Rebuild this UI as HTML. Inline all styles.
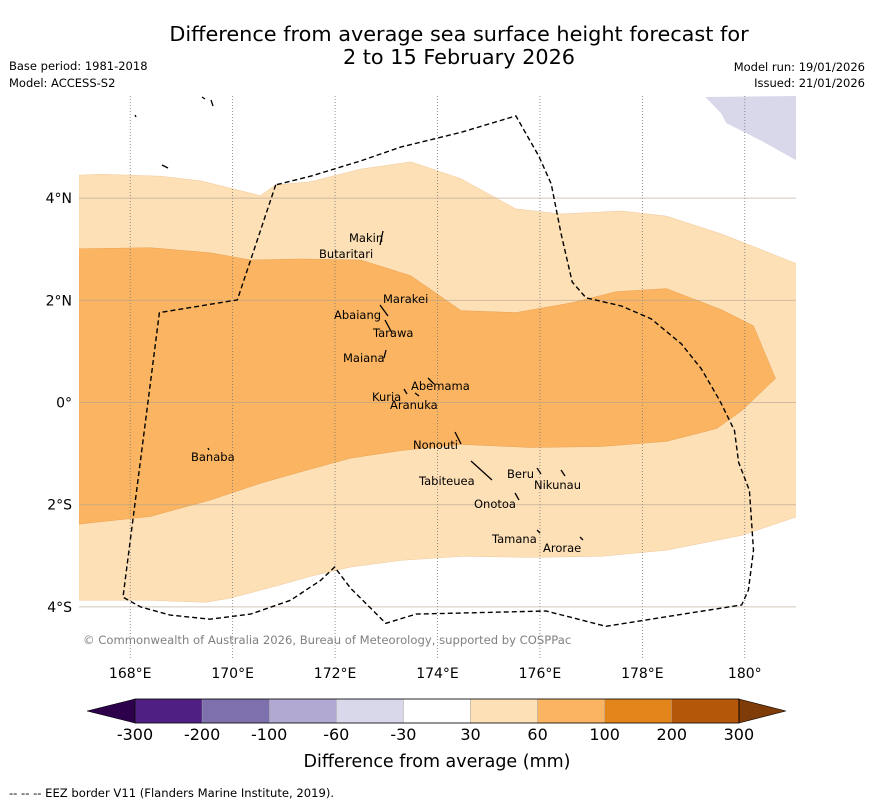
<!DOCTYPE html>
<html><head><meta charset="utf-8"><style>
body{margin:0;background:#fff;}
svg text{font-family:"DejaVu Sans","Liberation Sans",sans-serif;}
</style></head><body>
<svg width="873" height="804" viewBox="0 0 873 804" id="chart">
<text x="459" y="41" font-size="20.8" text-anchor="middle">Difference from average sea surface height forecast for</text>
<text x="459" y="64" font-size="20.8" text-anchor="middle">2 to 15 February 2026</text>
<text x="9" y="70" font-size="11.5">Base period: 1981-2018</text>
<text x="9" y="87" font-size="11.5">Model: ACCESS-S2</text>
<text x="865" y="71" font-size="11.5" text-anchor="end">Model run: 19/01/2026</text>
<text x="865" y="87" font-size="11.5" text-anchor="end">Issued: 21/01/2026</text>
<g id="map"></g>
<g id="cbar"></g>
<text x="437" y="767" font-size="17.5" text-anchor="middle">Difference from average (mm)</text>
<text x="9" y="797" font-size="11.6">--  --  -- EEZ border V11 (Flanders Marine Institute, 2019).</text>
</svg>
<script>
const lonTicks=[168,170,172,174,176,178,180];
const lonLabels=["168°E","170°E","172°E","174°E","176°E","178°E","180°"];
const latTicks=[4,2,0,-2,-4];
const latLabels=["4°N","2°N","0°","2°S","4°S"];
const band30Lon=[167.0,167.41,168.59,169.37,170.54,170.84,171.52,172.5,173.48,174.46,175.53,176.41,177.59,178.47,179.54,180.33,181.03,181.03,179.94,178.47,177.2,175.83,174.46,173.28,172.3,171.52,170.93,169.95,169.47,168.39,167.0];
const band30Lat=[4.45,4.47,4.43,4.34,4.05,4.26,4.32,4.57,4.71,4.38,3.79,3.69,3.75,3.65,3.3,2.99,2.71,-2.23,-2.6,-2.89,-3.01,-3.03,-3.01,-3.09,-3.22,-3.4,-3.57,-3.83,-3.91,-3.87,-3.87];
const band60Lon=[167.0,168.39,169.56,170.35,171.32,172.5,173.48,174.46,175.53,176.61,177.49,178.47,179.54,180.17,180.6,179.94,179.45,178.47,177.2,175.83,174.46,173.28,172.3,171.42,170.54,169.56,168.39,167.0];
const band60Lat=[3.01,3.03,2.93,2.79,2.81,2.79,2.48,1.8,1.76,1.95,2.17,2.23,1.82,1.5,0.47,-0.16,-0.51,-0.76,-0.86,-0.88,-0.82,-0.94,-1.09,-1.33,-1.58,-1.91,-2.23,-2.38];
const negLon=[179.23,179.54,179.64,180.33,181.03,181.03];
const negLat=[5.98,5.66,5.47,5.12,4.73,6.0];
const eezLon=[170.84,170.09,168.57,167.86,168.2,168.78,169.56,170.35,171.13,171.72,171.99,172.3,172.99,173.58,176.12,177.29,179.94,180.07,180.17,180.09,179.88,179.8,179.51,179.15,178.76,178.17,177.59,176.9,176.63,176.41,176.22,175.98,175.53,174.46,173.28,172.5,171.52,170.84];
const eezLat=[4.26,2.01,1.76,-3.81,-4.0,-4.16,-4.24,-4.14,-3.87,-3.48,-3.22,-3.63,-4.32,-4.14,-4.08,-4.38,-3.96,-3.67,-2.89,-1.72,-1.17,-0.55,0.04,0.66,1.15,1.64,1.89,2.05,2.36,3.32,4.28,4.82,5.61,5.29,5.0,4.73,4.43,4.26];
const cbarLabels=["-300","-200","-100","-60","-30","30","60","100","200","300"];
const cbarColors=["#4f1f84","#7e70ad","#b1a9d2","#d8d8ea","#ffffff","#fee0b6","#fbb562","#e3851a","#b45709"];

const NS="http://www.w3.org/2000/svg";
const X0=79,X1=796,Y0=96,Y1=658,LON0=167,LON1=181,LAT0=-5,LAT1=6;
const xs=l=>X0+(l-LON0)/(LON1-LON0)*(X1-X0);
const ys=l=>Y1-(l-LAT0)/(LAT1-LAT0)*(Y1-Y0);
const map=document.getElementById('map');
function mk(t,a,p){const e=document.createElementNS(NS,t);for(const k in a)e.setAttribute(k,a[k]);(p||map).appendChild(e);return e;}
function pts(lo,la){return lo.map((v,i)=>xs(v).toFixed(1)+','+ys(la[i]).toFixed(1)).join(' ');}
mk('defs',{}).innerHTML='<clipPath id="clip"><rect x="'+X0+'" y="'+Y0+'" width="'+(X1-X0)+'" height="'+(Y1-Y0)+'"/></clipPath>';
const g=mk('g',{'clip-path':'url(#clip)'});
let e;
e=mk('polygon',{points:pts(band30Lon,band30Lat),fill:'#fee0b6',stroke:'#f0c89a','stroke-width':0.5},g);


e=mk('polygon',{points:pts(band60Lon,band60Lat),fill:'#fbb562',stroke:'#e8a050','stroke-width':0.5},g);


e=mk('polygon',{points:pts(negLon,negLat),fill:'#d8d8ea'},g);


lonTicks.forEach((v,i)=>{
  e=mk('line',{x1:xs(v),x2:xs(v),y1:Y0,y2:Y1,stroke:'#777','stroke-width':0.8,'stroke-dasharray':'1,2'},g);
  
  
  e=mk('text',{x:xs(v),y:678,'font-size':14,'text-anchor':'middle'});
  e.textContent=lonLabels[i];
  
  
});
latTicks.forEach((v,i)=>{
  e=mk('line',{x1:X0,x2:X1,y1:ys(v),y2:ys(v),stroke:'#b0a090','stroke-opacity':0.6,'stroke-width':1},g);
  
  
  e=mk('text',{x:72,y:ys(v)+5,'font-size':14,'text-anchor':'end'});
  e.textContent=latLabels[i];
  
  
});
e=mk('polyline',{points:pts(eezLon,eezLat),fill:'none',stroke:'#000','stroke-width':1.4,'stroke-dasharray':'5,3'},g);


const isl=[[383,231,380,245],[380,305,388,316],[385,320,392,333],[386,350,384,358],[428,378,434,384],[455,432,461,444],[471,461,492,480],[537,468,541,474],[561,470,565,476],[515,493,519,500],[537,530,540,533],[580,537,583,540],[404,389,407,394],[415,393,419,396],[208,448,209,450],[135,115,136,117],[162,165,168,168],[202,97,205,99],[211,100,213,106]];
isl.forEach(a=>{e=mk('line',{x1:a[0],y1:a[1],x2:a[2],y2:a[3],stroke:'#000','stroke-width':1.3},g);

});
const labels=[["Makin",349,242],["Butaritari",319,258],["Marakei",383,303],["Abaiang",334,319],["Tarawa",373,337],["Maiana",343,362],["Abemama",411,390],["Kuria",372,401],["Aranuka",390,409],["Nonouti",413,449],["Banaba",191,461],["Beru",507,478],["Nikunau",534,489],["Tabiteuea",419,485],["Onotoa",474,508],["Tamana",492,543],["Arorae",543,552]];
labels.forEach(l=>{e=mk('text',{x:l[1],y:l[2],'font-size':11.5});e.textContent=l[0];

});
e=mk('text',{x:83,y:644,'font-size':11.6,fill:'#808080'});
e.textContent='© Commonwealth of Australia 2026, Bureau of Meteorology, supported by COSPPac';



const cb=document.getElementById('cbar');
const CX0=135,CW=67.1,CY=699,CH=24;
e=mk('polygon',{points:`87,711 ${CX0},${CY} ${CX0},${CY+CH}`,fill:'#2d004b',stroke:'#000','stroke-width':0.6},cb);


cbarColors.forEach((c,i)=>{e=mk('rect',{x:CX0+i*CW,y:CY,width:CW,height:CH,fill:c,stroke:'#999','stroke-width':0.4},cb);

});
const CXE=CX0+cbarColors.length*CW;
e=mk('polygon',{points:`${CXE},${CY} 786,711 ${CXE},${CY+CH}`,fill:'#7f3b08',stroke:'#000','stroke-width':0.6},cb);


e=mk('rect',{x:CX0,y:CY,width:CXE-CX0,height:CH,fill:'none',stroke:'#000','stroke-width':0.8},cb);
cbarLabels.forEach((t,i)=>{e=mk('text',{x:CX0+i*CW,y:740,'font-size':16,'text-anchor':'middle'},cb);e.textContent=t;

});
</script>
</body></html>
